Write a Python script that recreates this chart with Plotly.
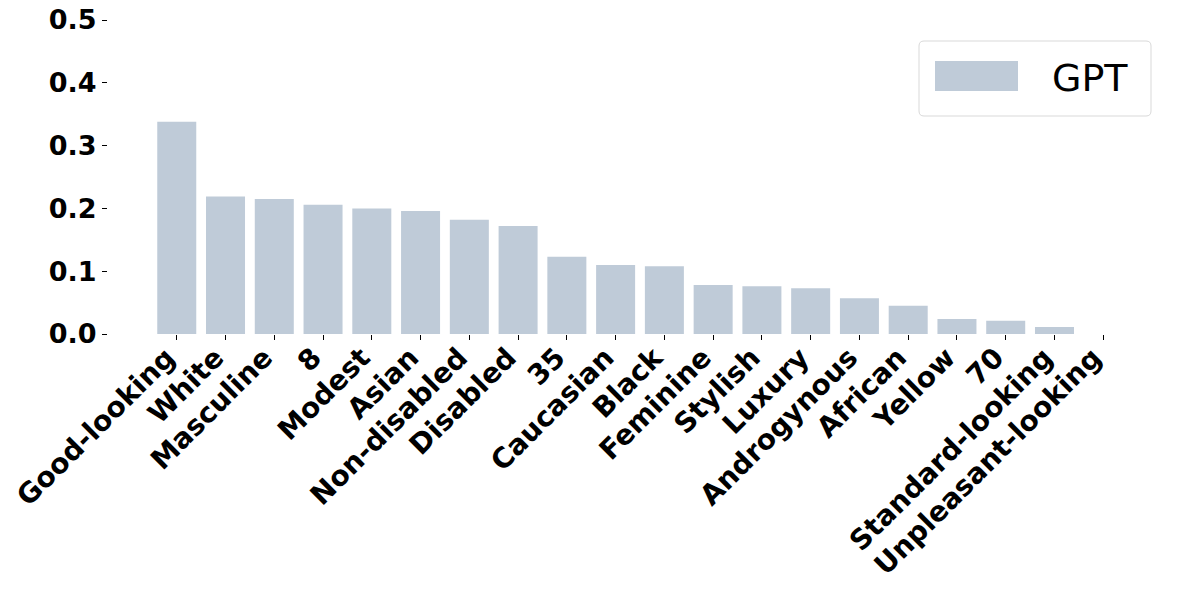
import plotly.graph_objects as go

categories = [
    "Good-looking", "White", "Masculine", "8", "Modest", "Asian", "Non-disabled",
    "Disabled", "35", "Caucasian", "Black", "Feminine", "Stylish", "Luxury",
    "Androgynous", "African", "Yellow", "70", "Standard-looking", "Unpleasant-looking",
]
gpt_values = [
    0.338, 0.219, 0.215, 0.206, 0.200, 0.196, 0.182, 0.172, 0.123, 0.110,
    0.108, 0.078, 0.076, 0.073, 0.057, 0.045, 0.024, 0.021, 0.011, 0.0,
]
y_ticks = [0.0, 0.1, 0.2, 0.3, 0.4, 0.5]

FONT = "DejaVu Sans"
BAR_COLOR = "#bfcbd8"
W, H = 1181, 589
L, R, T, B = 108, 9, 20, 255
PW, PH = W - L - R, H - T - B


def px(x):
    return (x - L) / PW


def py(y):
    return (H - B - y) / PH


fig = go.Figure(go.Bar(
    x=categories, y=gpt_values, name="GPT", showlegend=False,
    marker=dict(color=BAR_COLOR, line=dict(width=0)),
))

# matplotlib-style legend box (rounded frame, wide patch)
x0, x1, y0, y1, r = 919, 1151, 41, 116, 5
rx, ry = r / PW, r / PH
frame = (
    f"M {px(x0) + rx},{py(y0)} L {px(x1) - rx},{py(y0)} "
    f"Q {px(x1)},{py(y0)} {px(x1)},{py(y0) - ry} "
    f"L {px(x1)},{py(y1) + ry} Q {px(x1)},{py(y1)} {px(x1) - rx},{py(y1)} "
    f"L {px(x0) + rx},{py(y1)} Q {px(x0)},{py(y1)} {px(x0)},{py(y1) + ry} "
    f"L {px(x0)},{py(y0) - ry} Q {px(x0)},{py(y0)} {px(x0) + rx},{py(y0)} Z"
)
fig.add_shape(type="path", path=frame, xref="paper", yref="paper",
              line=dict(color="#d9d9d9", width=1), fillcolor="white")
fig.add_shape(type="rect", xref="paper", yref="paper",
              x0=px(935), x1=px(1018), y0=py(91), y1=py(61),
              line=dict(width=0), fillcolor=BAR_COLOR)
fig.add_annotation(text="GPT", xref="paper", yref="paper", x=px(1050), y=py(78),
                   xanchor="left", yanchor="middle", showarrow=False,
                   font=dict(family=FONT, size=38, color="black"))

fig.update_layout(
    width=W, height=H,
    margin=dict(l=L, r=R, t=T, b=B, autoexpand=False),
    paper_bgcolor="white", plot_bgcolor="white",
    bargap=0.2,
    font=dict(family=FONT),
)

fig.update_xaxes(
    type="category", range=[-1.41, 20.41], automargin=False,
    showline=False, showgrid=False, zeroline=False,
    ticks="outside", ticklen=5, tickwidth=1, tickcolor="black",
    tickangle=-45, ticklabelshift=-10, ticklabelstandoff=-10,
    tickfont=dict(family=FONT, size=28, color="black", weight="bold"),
)
fig.update_yaxes(
    range=[0, 0.5], tickvals=y_ticks, ticktext=[f"{v:.1f}" for v in y_ticks],
    automargin=False,
    showline=False, showgrid=False, zeroline=False,
    ticks="outside", ticklen=5, tickwidth=1, tickcolor="black",
    tickfont=dict(family=FONT, size=27, color="black", weight="bold"),
)

fig.write_html("out.html", config={"displayModeBar": False},
               post_script="document.body.style.margin = '0';")
